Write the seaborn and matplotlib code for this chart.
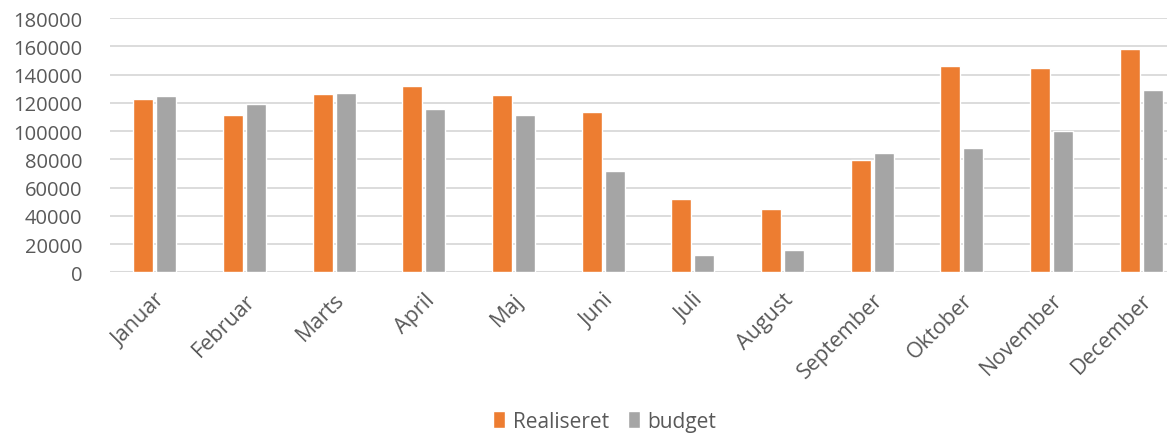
import matplotlib
matplotlib.use("Agg")
import matplotlib.pyplot as plt
import pandas as pd
import seaborn as sns

maaneder = ["Januar", "Februar", "Marts", "April", "Maj", "Juni", "Juli",
            "August", "September", "Oktober", "November", "December"]
realiseret = [122600, 111300, 126000, 131600, 125300, 113700, 51700,
              44600, 79700, 146000, 144800, 157800]
budget = [124800, 118900, 127100, 115300, 111300, 71700, 12300,
          16000, 84200, 88000, 100000, 129000]

df = pd.DataFrame({
    "maaned": maaneder * 2,
    "vaerdi": realiseret + budget,
    "serie": ["Realiseret"] * 12 + ["budget"] * 12,
})

sns.set_style("white")
plt.rcParams["font.family"] = ["Open Sans", "DejaVu Sans"]
tekst = "#595959"

fig = plt.figure(figsize=(11.67, 4.35), dpi=100)
ax = fig.add_axes([0.0943, 0.3717, 0.922, 0.5846])

sns.barplot(data=df, x="maaned", y="vaerdi", hue="serie",
            palette=["#ED7D31", "#A5A5A5"], width=0.513, gap=0.13,
            saturation=1, ax=ax, legend=True)

ax.set_ylim(0, 180000)
ax.set_xlim(-0.5, 11.5)
ax.set_yticks(range(0, 180001, 20000))
ax.yaxis.grid(True, color="#D9D9D9", linewidth=1.3)
ax.set_axisbelow(True)
for s in ["top", "right", "left", "bottom"]:
    ax.spines[s].set_visible(False)
ax.axhline(0, color="#D9D9D9", linewidth=1.5, zorder=0)
ax.tick_params(axis="both", length=0, colors=tekst)
ax.tick_params(axis="y", pad=20, labelsize=14.5)
ax.tick_params(axis="x", pad=12, labelsize=15.5)
ax.set_xlabel("")
ax.set_ylabel("")
plt.setp(ax.get_xticklabels(), rotation=45, ha="right", rotation_mode="anchor")

handles, labels = ax.get_legend_handles_labels()
ax.get_legend().remove()
fig.legend(handles, labels, loc="lower center", bbox_to_anchor=(0.518, -0.038),
           ncol=2, frameon=False, fontsize=15, labelcolor=tekst,
           handlelength=0.6, handleheight=0.9, handletextpad=0.35,
           columnspacing=0.9)

fig.savefig("out.png", dpi=100)
